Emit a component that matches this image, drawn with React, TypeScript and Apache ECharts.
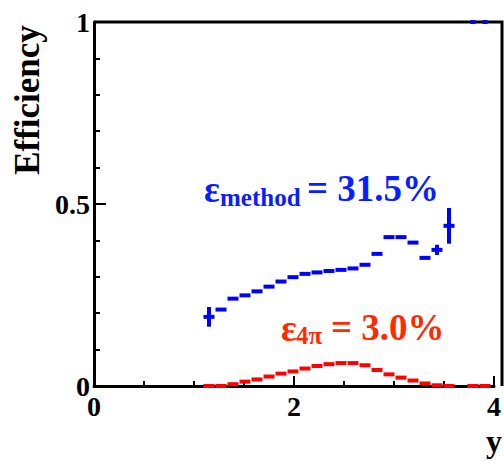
import React, { useEffect, useRef } from "react";
import * as echarts from "echarts";

// Histogram binning (rapidity y)
const BIN_START = 1.09;
const BIN_WIDTH = 0.12;

// Efficiency of the method (blue), per bin; null = empty bin
const methodValues: (number | null)[] = [
  0.19, 0.21, 0.24, 0.249, 0.26, 0.273, 0.287, 0.299, 0.308, 0.312, 0.316, 0.319,
  0.323, 0.333, 0.363, 0.409, 0.409, 0.394, 0.352, 0.374, 0.44, null, 1.0, 1.0,
];
const methodErrors: number[] = [
  0.027, 0.004, 0.004, 0.004, 0.004, 0.004, 0.004, 0.004, 0.004, 0.004, 0.004, 0.004,
  0.004, 0.004, 0.004, 0.004, 0.004, 0.004, 0.004, 0.014, 0.049, 0, 0, 0,
];

// 4pi efficiency (red), per bin
const fourPiValues: (number | null)[] = [
  0.0, 0.0, 0.005, 0.012, 0.018, 0.026, 0.034, 0.04, 0.048, 0.055, 0.06, 0.063,
  0.063, 0.057, 0.044, 0.032, 0.023, 0.015, 0.007, 0.002, 0.0, null, 0.0, 0.0,
];

const xTicks = [0, 2, 4];
const yTicks = [0, 0.5, 1];

const methodLabel = { eps: "ε", sub: "method", rest: "= 31.5%" };
const fourPiLabel = { eps: "ε", sub: "4π", rest: "= 3.0%" };

const FONT = "Liberation Serif";
const BLUE = "#0000ff";
const RED = "#ff0000";
const BLUE_TEXT = "#0a1eff";
const RED_TEXT = "#ff2a00";

function buildData(values: (number | null)[], errors?: number[]) {
  const out: number[][] = [];
  values.forEach((v, i) => {
    if (v === null) return;
    const lo = BIN_START + i * BIN_WIDTH;
    out.push([lo, lo + BIN_WIDTH, v, errors ? errors[i] : 0]);
  });
  return out;
}

function makeRender(color: string) {
  return (_params: any, api: any) => {
    const lo = api.value(0);
    const hi = api.value(1);
    const v = api.value(2);
    const e = api.value(3);
    const a = api.coord([lo, v]);
    const b = api.coord([hi, v]);
    const children: any[] = [];
    if (v >= 1) {
      children.push({
        type: "rect",
        shape: { x: (a[0] + b[0]) / 2 - 2.5, y: a[1] - 2, width: 5, height: 4 },
        style: { fill: color },
      });
    } else {
      children.push({
        type: "rect",
        shape: { x: a[0] + 0.5, y: a[1] - 2, width: b[0] - a[0] - 1, height: 4 },
        style: { fill: color },
      });
      if (e > 0.006) {
        const t = api.coord([(lo + hi) / 2, v + e]);
        const bt = api.coord([(lo + hi) / 2, v - e]);
        children.push({
          type: "rect",
          shape: { x: t[0] - 2, y: t[1], width: 4, height: bt[1] - t[1] },
          style: { fill: color },
        });
      }
    }
    return { type: "group", children };
  };
}

function txt(text: string, x: number, y: number, size: number, fill: string, align = "left", rotation = 0) {
  return {
    type: "text",
    x,
    y,
    rotation,
    style: {
      text,
      fontFamily: FONT,
      fontWeight: "bold",
      fontSize: size,
      fill,
      align,
      verticalAlign: "middle",
    },
  };
}

export default function App() {
  const ref = useRef<HTMLDivElement>(null);
  useEffect(() => {
    if (!ref.current) return;
    const chart = echarts.init(ref.current, null, { renderer: "svg" });
    const labelStyle = {
      fontFamily: FONT,
      fontWeight: "bold" as const,
      fontSize: 28,
      color: "#000",
    };
    chart.setOption({
      animation: false,
      backgroundColor: "#fff",
      grid: { left: 94, right: 10, top: 22, bottom: 75, containLabel: false },
      xAxis: {
        type: "value",
        min: 0,
        max: 4,
        interval: 2,
        splitLine: { show: false },
        axisLine: { onZero: false, lineStyle: { color: "#000", width: 3 } },
        axisTick: { inside: true, length: 10, lineStyle: { color: "#000", width: 2 } },
        minorTick: { show: true, splitNumber: 4, length: 5, lineStyle: { color: "#000", width: 2 } },
        axisLabel: {
          ...labelStyle,
          margin: 6,
          formatter: (val: number) => (xTicks.includes(val) ? String(val) : ""),
        },
      },
      yAxis: {
        type: "value",
        min: 0,
        max: 1,
        interval: 0.5,
        splitLine: { show: false },
        axisLine: { onZero: false, lineStyle: { color: "#000", width: 3 } },
        axisTick: { inside: true, length: 12, lineStyle: { color: "#000", width: 2 } },
        minorTick: { show: true, splitNumber: 5, length: 6, lineStyle: { color: "#000", width: 2 } },
        axisLabel: {
          ...labelStyle,
          margin: 4,
          formatter: (val: number) => (yTicks.includes(val) ? String(val) : ""),
        },
      },
      series: [
        {
          type: "custom",
          name: "4pi",
          clip: false,
          renderItem: makeRender(RED),
          encode: { x: [0, 1], y: 2 },
          data: buildData(fourPiValues),
          z: 3,
        },
        {
          type: "custom",
          name: "method",
          clip: false,
          renderItem: makeRender(BLUE),
          encode: { x: [0, 1], y: 2 },
          data: buildData(methodValues, methodErrors),
          z: 4,
        },
      ],
      graphic: [
        {
          type: "polyline",
          z: 1,
          shape: { points: [[94, 22], [502, 22], [502, 386]] },
          style: { stroke: "#000", lineWidth: 3, fill: "none" },
        },
        txt("Efficiency", 27, 100, 35, "#000", "center", Math.PI / 2),
        txt("y", 502, 441, 32, "#000", "right"),
        txt(methodLabel.eps, 204, 189, 37, BLUE_TEXT),
        txt(methodLabel.sub, 220, 197, 25, BLUE_TEXT),
        txt(methodLabel.rest, 307, 188, 37, BLUE_TEXT),
        txt(fourPiLabel.eps, 281, 328, 37, RED_TEXT),
        txt(fourPiLabel.sub, 296, 335, 25, RED_TEXT),
        txt(fourPiLabel.rest, 331, 327, 37, RED_TEXT),
      ],
    });
    return () => chart.dispose();
  }, []);
  return (
    <div
      ref={ref}
      style={{ position: "absolute", left: 0, top: 0, width: 504, height: 461, background: "#fff" }}
    />
  );
}
